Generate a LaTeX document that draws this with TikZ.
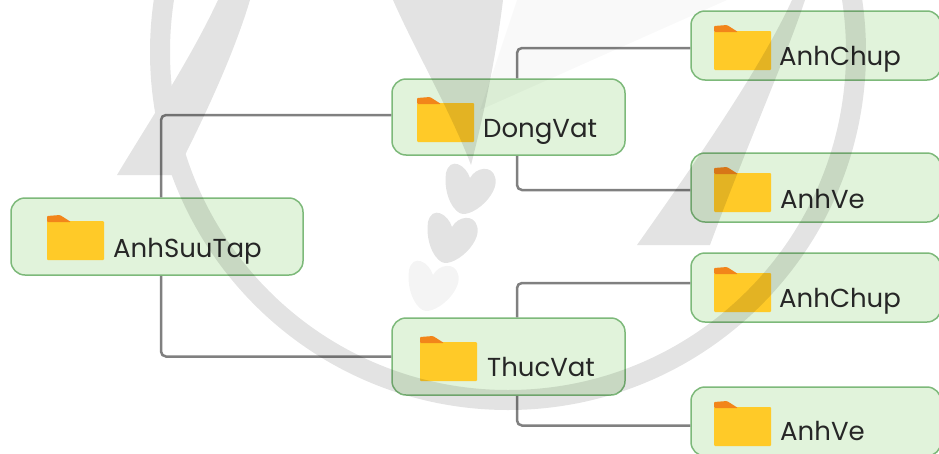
\documentclass[tikz,border=0pt]{standalone}
\usepackage{fontspec}
\setmainfont{Poppins}
\definecolor{boxfill}{HTML}{E1F3DB}
\definecolor{boxline}{HTML}{7DB97A}
\definecolor{linkgray}{HTML}{808080}
\definecolor{folderbody}{HTML}{FFCA28}
\definecolor{foldertab}{HTML}{F2851A}
\definecolor{labelink}{HTML}{262626}
\tikzset{
treebox/.style={draw=boxline, fill=boxfill, line width=1.5pt, rounded corners=14pt, inner sep=0pt},
treelabel/.style={anchor=base west, inner sep=0pt, text=labelink, font=\fontsize{26}{31}\selectfont},
treelink/.style={draw=linkgray, line width=2.5pt, rounded corners=5pt},
pics/foldericon/.style={code={
\fill[folderbody, rounded corners=1pt] (0,6) -- (57,6) -- (57,45) -- (0,45) -- cycle;
\fill[foldertab, rounded corners=1pt] (0,7) -- (0,1) -- (13,0) -- (24,7) -- cycle;
}}
}
\begin{document}
\begin{tikzpicture}[x=1pt, y=-1pt]
\useasboundingbox (0,0) rectangle (939,453);
\clip (0,0) rectangle (939,453);
\node[treebox, minimum width=292pt, minimum height=77pt] (root) at (157,236.5) {};
\node[treebox, minimum width=233pt, minimum height=76pt] (dongvat) at (508.5,117) {};
\node[treebox, minimum width=233pt, minimum height=77pt] (thucvat) at (508.5,356.5) {};
\node[treebox, minimum width=250pt, minimum height=69pt] (chupa) at (816,45.5) {};
\node[treebox, minimum width=250pt, minimum height=69pt] (vea) at (816,187.5) {};
\node[treebox, minimum width=250pt, minimum height=69pt] (chupb) at (816,287.5) {};
\node[treebox, minimum width=250pt, minimum height=69pt] (veb) at (816,421.5) {};
\draw[treelink] ([xshift=4pt]root.north) |- ([yshift=2pt]dongvat.west);
\draw[treelink] ([xshift=4pt]root.south) |- (thucvat.west);
\draw[treelink] ([xshift=8.5pt]dongvat.north) |- ([yshift=-2.5pt]chupa.west);
\draw[treelink] ([xshift=8.5pt]dongvat.south) |- ([yshift=-2.5pt]vea.west);
\draw[treelink] ([xshift=8.5pt]thucvat.north) |- ([yshift=4.5pt]chupb.west);
\draw[treelink] ([xshift=8.5pt]thucvat.south) |- ([yshift=-4pt]veb.west);
\pic at (47,215) {foldericon};
\pic at (417,97) {foldericon};
\pic at (420,336) {foldericon};
\pic at (714,25) {foldericon};
\pic at (714,167) {foldericon};
\pic at (714,267) {foldericon};
\pic at (714,401) {foldericon};
\node[treelabel] (rootlabel) at (113,257) {AnhSuuTap};
\node[treelabel] (dongvatlabel) at (483,137) {DongVat};
\node[treelabel] (thucvatlabel) at (487,376) {ThucVat};
\node[treelabel] (chupalabel) at (779,65) {AnhChup};
\node[treelabel] (vealabel) at (780,208) {AnhVe};
\node[treelabel] (chupblabel) at (779,307) {AnhChup};
\node[treelabel] (veblabel) at (780,440) {AnhVe};
% watermark
\fill[black, opacity=.025] (517,0) -- (727,0) -- (480,110) -- (497,60) -- cycle;
\begin{scope}[transparency group, opacity=.11]
\draw[black, line width=20pt] (508,52) circle (348pt);
\fill[black] (218,0) .. controls (190,60) and (150,120) .. (117,175) -- (173,175) -- (185,155) .. controls (210,105) and (235,50) .. (250,0) -- cycle;
\fill[black] (792,0) .. controls (760,70) and (690,170) .. (637,245) -- (710,245) .. controls (745,150) and (785,60) .. (805,0) -- cycle;
\fill[black] (393,0) .. controls (415,50) and (450,110) .. (471,165) .. controls (485,110) and (497,50) .. (503,0) -- cycle;
\foreach \shiftx/\shifty in {18/-49, 0/0}
\fill[black, shift={(\shiftx,\shifty)}] (452,227) .. controls (448,214) and (432,205) .. (428,222) .. controls (425,245) and (437,263) .. (445,263) .. controls (460,263) and (482,240) .. (477,226) .. controls (474,214) and (458,216) .. (452,227) -- cycle;
\end{scope}
\fill[black, opacity=.045, shift={(-19,48)}] (452,227) .. controls (448,214) and (432,205) .. (428,222) .. controls (425,245) and (437,263) .. (445,263) .. controls (460,263) and (482,240) .. (477,226) .. controls (474,214) and (458,216) .. (452,227) -- cycle;
\end{tikzpicture}
\end{document}
